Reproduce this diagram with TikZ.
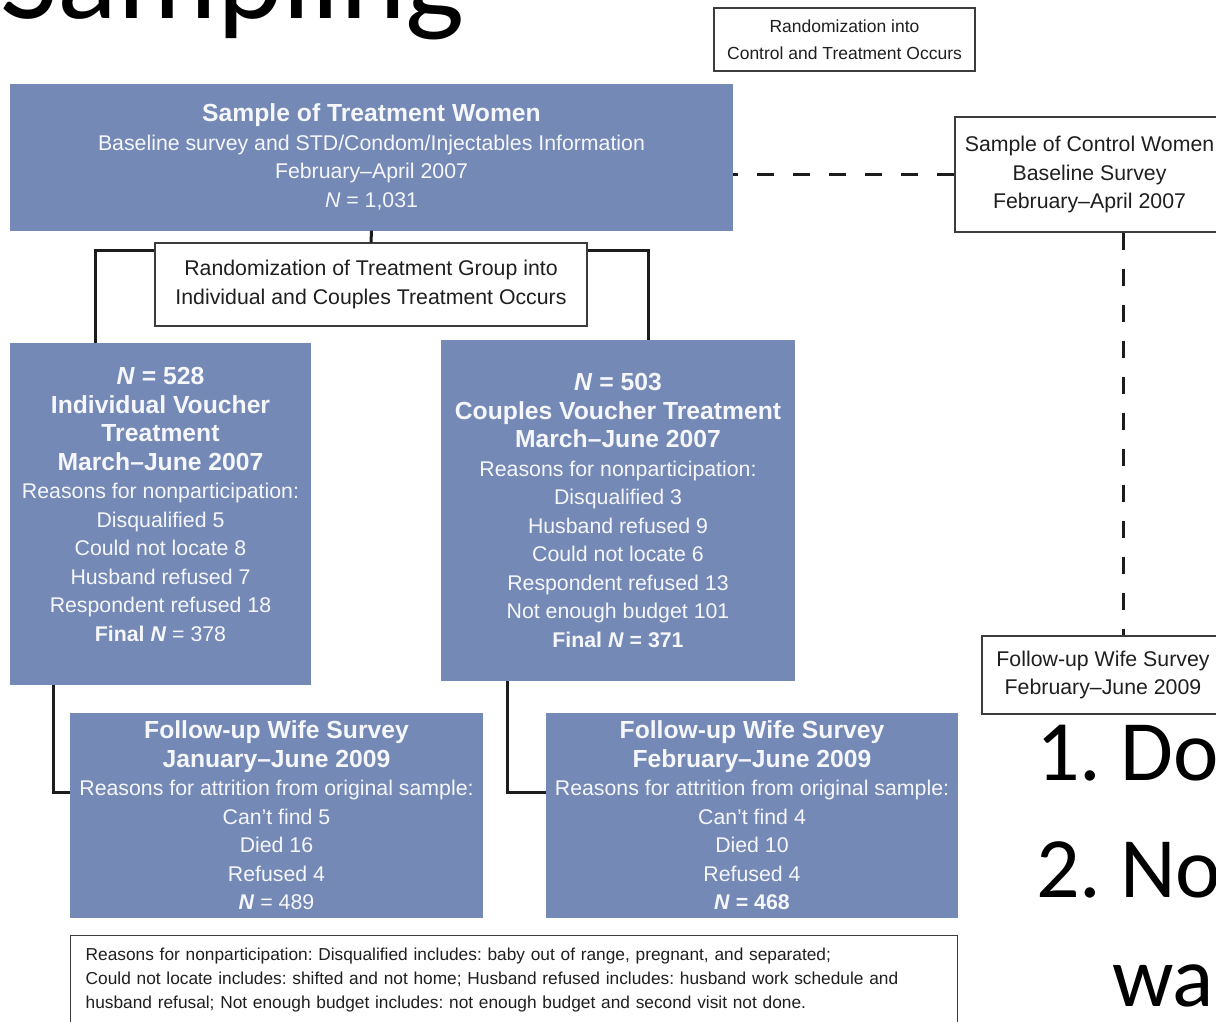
\documentclass[tikz,border=0pt]{standalone}
\usepackage{fontspec}
\setmainfont{Liberation Sans}
\newfontfamily\slidefont{Carlito}
\frenchspacing

\definecolor{boxblue}{RGB}{116,137,181}
\definecolor{boxtext}{RGB}{246,247,251}
\definecolor{linegray}{RGB}{28,28,28}
\definecolor{framegray}{RGB}{60,60,60}

% bold heading line inside a box
\newcommand{\hd}[1]{{\fontsize{24.7}{28.5}\selectfont\bfseries #1}}
\newcommand{\nn}{\textit{N}}

\begin{document}
\begin{tikzpicture}[x=1pt,y=-1pt,
	every node/.style={font=\fontsize{21.3}{28.5}\selectfont, align=center, inner sep=0pt},
	bluebox/.style={fill=boxblue, text=boxtext},
	whitebox/.style={draw=framegray, line width=1.4pt, fill=white, text=black!88},
	link/.style={draw=linegray, line width=3pt},
	ctrllink/.style={draw=linegray, line width=3pt, dash pattern=on 17pt off 19pt},
	slide/.style={font=\fontsize{86}{86}\selectfont\slidefont, anchor=base west}]
	\useasboundingbox (0,0) rectangle (1216,1021);
	\clip (0,0) rectangle (1216,1021);

	% slide text around the figure
	\node[font=\fontsize{125}{125}\selectfont\slidefont, anchor=base west] (title) at (0,18) {Sampling};
	\node[slide] (one) at (1036,780) {1.};
	\node[slide] (do) at (1120,780) {Do};
	\node[slide] (two) at (1036,897) {2.};
	\node[slide] (no) at (1120,897) {No};
	\node[slide] (wa) at (1112,1006) {wa};

	% boxes
	\node[whitebox, minimum width=261pt, minimum height=63pt, font=\fontsize{17.5}{27}\selectfont] (rctl) at (844.5,39.5)
		{Randomization into\\ Control and Treatment Occurs};
	\node[bluebox, minimum width=723pt, minimum height=147pt] (twomen) at (371.5,157)
		{\hd{Sample of Treatment Women}\\ Baseline survey and STD/Condom/Injectables Information\\ February–April 2007\\ \nn{} = 1,031};
	\node[whitebox, minimum width=269pt, minimum height=115pt] (ctrl) at (1089.5,174.5)
		{Sample of Control Women\\ Baseline Survey\\ February–April 2007};
	\node[whitebox, minimum width=432pt, minimum height=83pt] (rtreat) at (371,284.5)
		{Randomization of Treatment Group into\\ Individual and Couples Treatment Occurs};
	\node[bluebox, minimum width=301pt, minimum height=342pt] (indiv) at (160.5,514)
		{\hd{\nn{} = 528}\\ \hd{Individual Voucher}\\ \hd{Treatment}\\ \hd{March–June 2007}\\
		Reasons for nonparticipation:\\ Disqualified 5\\ Could not locate 8\\ Husband refused 7\\
		Respondent refused 18\\ \textbf{Final \nn{}} = 378\rule[-19pt]{0pt}{1pt}};
	\node[bluebox, minimum width=354pt, minimum height=341pt] (coup) at (618,510.5)
		{\hd{\nn{} = 503}\\ \hd{Couples Voucher Treatment}\\ \hd{March–June 2007}\\
		Reasons for nonparticipation:\\ Disqualified 3\\ Husband refused 9\\ Could not locate 6\\
		Respondent refused 13\\ Not enough budget 101\\ \textbf{Final \nn{} = 371}};
	\node[whitebox, minimum width=242pt, minimum height=78pt] (fuctrl) at (1103,675)
		{Follow-up Wife Survey\\ February–June 2009};
	\node[bluebox, minimum width=413pt, minimum height=205pt] (fuind) at (276.5,815.5)
		{\hd{Follow-up Wife Survey}\\ \hd{January–June 2009}\\ Reasons for attrition from original sample:\\
		Can't find 5\\ Died 16\\ Refused 4\\ \textbf{\nn{}} = 489};
	\node[bluebox, minimum width=412pt, minimum height=205pt] (fucoup) at (752,815.5)
		{\hd{Follow-up Wife Survey}\\ \hd{February–June 2009}\\ Reasons for attrition from original sample:\\
		Can't find 4\\ Died 10\\ Refused 4\\ \textbf{\nn{} = 468}};
	\node[whitebox, anchor=north west, align=left, text width=857pt, inner xsep=15pt, inner ysep=12pt,
		font=\fontsize{17.3}{24}\selectfont] (note) at (70,935)
		{Reasons for nonparticipation: Disqualified includes: baby out of range, pregnant, and separated;\\
		Could not locate includes: shifted and not home; Husband refused includes: husband work schedule and\\
		husband refusal; Not enough budget includes: not enough budget and second visit not done.};

	% connectors
	\coordinate (bl) at (95,250);
	\coordinate (br) at (648,250);
	\coordinate (kl) at (53,792);
	\coordinate (kr) at (507,792);
	\coordinate (cv) at (1123,0);
	\draw[link] (twomen.south) -- (rtreat.north);
	\draw[link] (rtreat.west |- bl) -- (bl) -- (bl |- indiv.north);
	\draw[link] (rtreat.east |- br) -- (br) -- (br |- coup.north);
	\draw[link] (kl |- indiv.south) -- (kl) -- (kl -| fuind.west);
	\draw[link] (kr |- coup.south) -- (kr) -- (kr -| fucoup.west);
	\draw[ctrllink, dash phase=12pt] (twomen.east |- ctrl.west) -- (ctrl.west);
	\draw[ctrllink] (ctrl.south -| cv) -- (fuctrl.north -| cv);
\end{tikzpicture}
\end{document}
